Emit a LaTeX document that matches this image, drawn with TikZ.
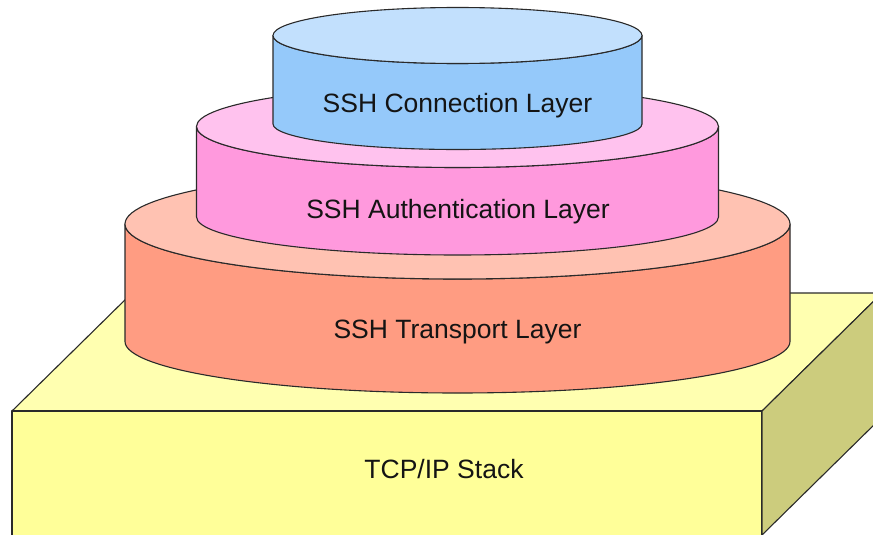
\documentclass[tikz,border=0pt]{standalone}
\usepackage{fontspec}
\setmainfont{Liberation Sans}
\definecolor{blueside}{HTML}{95C9FA}
\definecolor{bluetop}{HTML}{C2E0FD}
\definecolor{pinkside}{HTML}{FF99DD}
\definecolor{pinktop}{HTML}{FFC2EE}
\definecolor{salside}{HTML}{FF9C82}
\definecolor{saltop}{HTML}{FFC2B2}
\definecolor{yfront}{HTML}{FFFF99}
\definecolor{ytop}{HTML}{FFFFB0}
\definecolor{yside}{HTML}{CCCC7D}
\definecolor{edge}{HTML}{2A2A2A}
\tikzset{
  face/.style={draw=edge, line width=1.1pt, line join=round},
  lbl/.style={anchor=base, inner sep=0pt, font=\fontsize{26.5}{30}\selectfont, text=black!92}
}
% cylinder: cx, rx, ytop, ybot, rtop, rbot, side colour, top colour
\newcommand{\mycyl}[8]{%
  \path[face, fill=#7] (#1-#2,#3) -- (#1-#2,#4)
    arc[start angle=180, end angle=0, x radius=#2, y radius=#6]
    -- (#1+#2,#3)
    arc[start angle=0, end angle=180, x radius=#2, y radius=#5] -- cycle;
  \path[face, fill=#8] (#1,#3) ellipse [x radius=#2, y radius=#5];
}
\begin{document}
\begin{tikzpicture}[x=1pt, y=-1pt]
\clip (0,0) rectangle (873,535);
\fill[white] (0,0) rectangle (873,535);
% TCP/IP box
\path[face, fill=ytop] (12,411) -- (132,293) -- (882,293) -- (762,411) -- cycle;
\path[face, fill=yfront] (12,411) rectangle (762,540);
\path[face, fill=yside] (762,411) -- (882,293) -- (882,417) -- (762,535) -- cycle;
% cylinders
\mycyl{457.5}{332.5}{224}{341.5}{55}{51.5}{salside}{saltop}
\mycyl{457.5}{261}{126.5}{217}{41}{38}{pinkside}{pinktop}
\mycyl{457.5}{184.5}{35.5}{124}{28}{25.5}{blueside}{bluetop}
% labels
\node[lbl] (conn) at (457.5,112) {SSH Connection Layer};
\node[lbl] (auth) at (458,218) {SSH Authentication Layer};
\node[lbl] (trans) at (457.5,338) {SSH Transport Layer};
\node[lbl] (tcp) at (444,478) {TCP/IP Stack};
\end{tikzpicture}
\end{document}
